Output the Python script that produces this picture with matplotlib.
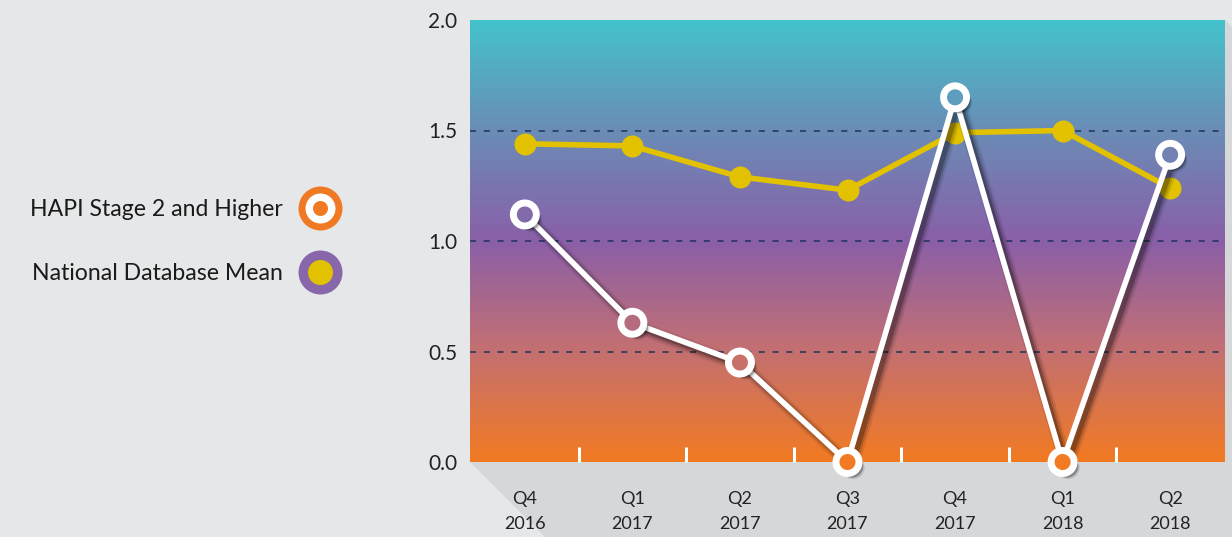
import matplotlib
matplotlib.use("Agg")
import matplotlib.pyplot as plt
import matplotlib.patheffects as pe
from matplotlib.colors import LinearSegmentedColormap
from matplotlib.patches import Polygon
import numpy as np

plt.rcParams['font.family'] = ['Lato', 'DejaVu Sans']

# data
quarters = ["Q4\n2016", "Q1\n2017", "Q2\n2017", "Q3\n2017", "Q4\n2017", "Q1\n2018", "Q2\n2018"]
hapi = [1.12, 0.63, 0.45, 0.0, 1.65, 0.0, 1.39]
national = [1.44, 1.43, 1.29, 1.23, 1.49, 1.50, 1.24]
y_ticks = [0.0, 0.5, 1.0, 1.5, 2.0]
legend_labels = ["HAPI Stage 2 and Higher", "National Database Mean"]

bg = "#e6e7e9"
floor = "#d6d7d9"
yellow = "#e2c200"

W, H = 1232, 537
fig = plt.figure(figsize=(W / 100, H / 100), dpi=100, facecolor=bg)

# plot area position in pixels
L, R, T, B = 470, 1225, 20, 462

# floor and right wall (3d look)
fig.patches.append(Polygon([(L / W, 1 - B / H), (1, 1 - B / H), (1, 0), ((L + 75) / W, 0)],
                           closed=True, transform=fig.transFigure, facecolor=floor,
                           edgecolor="none", zorder=-5))
fig.patches.append(Polygon([(R / W, 1 - T / H), (1, 1 - (T + 7) / H), (1, 1 - B / H), (R / W, 1 - B / H)],
                           closed=True, transform=fig.transFigure, facecolor=floor,
                           edgecolor="none", zorder=-5))

ax = fig.add_axes([L / W, 1 - B / H, (R - L) / W, (B - T) / H])
ax.patch.set_alpha(0)

# gradient background
grad = LinearSegmentedColormap.from_list(
    "bggrad", [(0.0, "#f27a22"), (0.25, "#c47071"), (0.5, "#8a5fa8"), (0.75, "#6a8cb6"), (1.0, "#44c3cc")])
n = len(quarters)
xlim = (-0.51, n - 1 + 0.51)
ax.imshow(np.linspace(0, 1, 256).reshape(-1, 1), cmap=grad, aspect="auto", origin="lower",
          extent=(xlim[0], xlim[1], 0, 2), zorder=0)
ax.set_xlim(*xlim)
ax.set_ylim(0, 2)

# dashed gridlines
for yv in y_ticks[1:-1]:
    ax.axhline(yv, color="#1c3553", lw=1.1, ls=(0, (4, 5)), zorder=1)

x = np.arange(n)

# national mean
ax.plot(x, national, color=yellow, lw=4, zorder=2)
ax.scatter(x, national, s=(22 * 0.72) ** 2, color=yellow, zorder=3, linewidths=0)

# HAPI line with soft shadow
soft = [pe.SimpleLineShadow(offset=(3, -3), shadow_color="black", alpha=0.08, linewidth=10),
        pe.SimpleLineShadow(offset=(3, -3), shadow_color="black", alpha=0.15, linewidth=7),
        pe.SimpleLineShadow(offset=(3, -3), shadow_color="black", alpha=0.25, linewidth=4),
        pe.Normal()]
ax.plot(x, hapi, color="white", lw=4, zorder=4, path_effects=soft, clip_on=False)

# ring markers: filled with the gradient colour so the line does not show through
ring_d = 23 * 0.72
ax.scatter(x, hapi, s=ring_d ** 2, c=hapi, cmap=grad, vmin=0, vmax=2, edgecolors="white",
           linewidths=5, zorder=6, clip_on=False,
           path_effects=[pe.SimplePatchShadow(offset=(4, -4), shadow_rgbFace="black", alpha=0.12),
                         pe.SimplePatchShadow(offset=(3, -3), shadow_rgbFace="black", alpha=0.3),
                         pe.Normal()])

# axes styling
for s in ax.spines.values():
    s.set_visible(False)
ax.set_yticks(y_ticks)
ax.set_yticklabels([f"{v:.1f}" for v in y_ticks], fontsize=15, color="#222222")
ax.tick_params(axis="y", length=0, pad=9)
ax.set_xticks(x)
ax.set_xticklabels(quarters, fontsize=13, color="#222222", linespacing=1.7)
ax.tick_params(axis="x", which="major", length=0, pad=21)
ax.set_xticks(x[:-1] + 0.5, minor=True)
ax.tick_params(axis="x", which="minor", direction="in", length=11, width=2.2, color="white")

# legend on the left
lax = fig.add_axes([0, 0, L / W, 1])
lax.set_xlim(0, L)
lax.set_ylim(H, 0)
lax.axis("off")
lax.text(283, 209, legend_labels[0], ha="right", va="center", fontsize=16.6, color="#1a1a1a")
lax.text(283, 273, legend_labels[1], ha="right", va="center", fontsize=16.6, color="#1a1a1a")
lax.scatter([320], [208], s=(44 * 0.72) ** 2, color="#f07a24", linewidths=0)
lax.scatter([320], [208], s=(30 * 0.72) ** 2, color="white", linewidths=0)
lax.scatter([320], [208], s=(15 * 0.72) ** 2, color="#f07a24", linewidths=0)
lax.scatter([320], [272], s=(44 * 0.72) ** 2, color="#8866aa", linewidths=0)
lax.scatter([320], [272], s=(25 * 0.72) ** 2, color=yellow, linewidths=0)

fig.savefig("out.png", dpi=100, facecolor=bg)
